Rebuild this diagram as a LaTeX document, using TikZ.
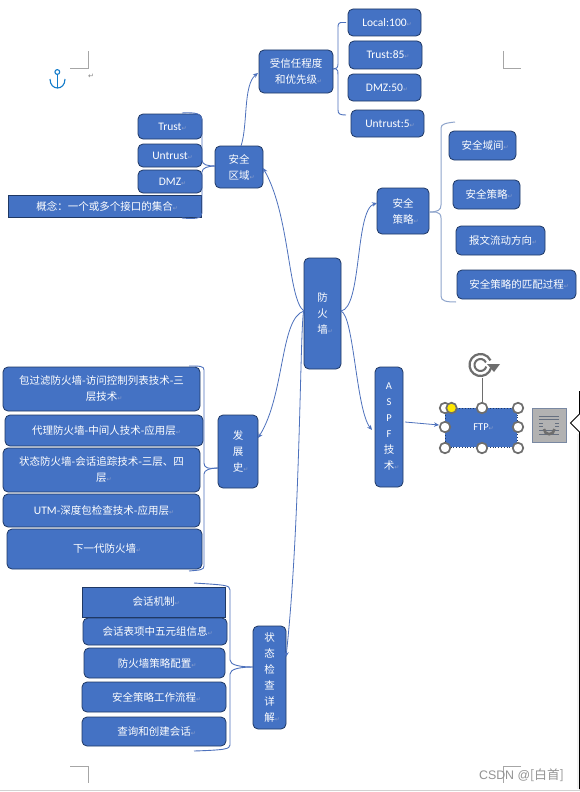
\documentclass[tikz,border=0pt]{standalone}
\usepackage{fontspec}
\setmainfont{Carlito}
\newfontfamily\cjk{Noto Sans CJK SC}
\newfontfamily\djv{DejaVu Sans}
\newfontfamily\lib{Liberation Sans}
\usetikzlibrary{arrows.meta,calc}
\definecolor{boxfill}{HTML}{4472C4}
\definecolor{boxline}{HTML}{1F3864}
\definecolor{conn}{HTML}{4D71BC}
\definecolor{brk}{HTML}{8FA5CC}
\definecolor{hgray}{HTML}{6E6E6E}
\definecolor{markc}{HTML}{8C9FCB}
\newcommand{\pmk}{\rlap{\djv\fontsize{6}{6}\selectfont\textcolor{markc}{↵}}}
\newcommand{\ltx}[1]{{\fontsize{11.5}{16}\selectfont #1}}
\newcommand{\bx}[7][]{%
  \pgfmathsetmacro{\bw}{#5-#3}\pgfmathsetmacro{\bh}{#6-#4}%
  \pgfmathsetmacro{\cxx}{(#3+#5)/2}\pgfmathsetmacro{\cyy}{(#4+#6)/2}%
  \node[boxst,minimum width=\bw pt,minimum height=\bh pt,#1] (#2) at (\cxx,\cyy) {#7};}
\tikzset{
  boxst/.style={draw=boxline,fill=boxfill,line width=0.8pt,rounded corners=5pt,inner sep=0pt,
    align=center,text=white,font=\fontsize{10.5}{16}\selectfont},
  sharpbox/.style={rounded corners=0pt},
  link/.style={draw=conn,line width=0.8pt,-{Stealth[length=5pt,width=4.5pt]}},
  brace/.style={draw=conn,line width=0.9pt},
  lbrace/.style={draw=brk,line width=1pt},
  crop/.style={draw=gray!70,line width=0.7pt},
  handle/.style={circle,draw=hgray,line width=1.7pt,fill=white,minimum size=10.5pt,inner sep=0pt}
}
\begin{document}
\begin{tikzpicture}[x=1pt,y=-1pt]
\useasboundingbox (0,0) rectangle (580,792);
\fill[white] (0,0) rectangle (580,792);
% page crop marks
\draw[crop] (70,68) -- (88,68) -- (88,51);
\draw[crop] (503,51) -- (503,68) -- (521,68);
\draw[crop] (70,766) -- (88,766) -- (88,783);
\draw[crop] (521,766) -- (503,766) -- (503,783);
\fill[gray!10] (576.5,434) rectangle (579,789);
\draw[gray!35,line width=1pt] (0,790) -- (580,790);
% anchor
\begin{scope}[draw=cyan!60!blue,line width=1.1pt]
\draw (57.3,72) circle (2.4);
\draw (57.3,74.5) -- (57.3,88);
\draw (50,79) .. controls (50,91) and (65,91) .. (65,79);
\end{scope}
\node[inner sep=0pt,text=gray] (pm) at (91,76) {\djv\fontsize{7}{7}\selectfont ↵};
% nodes
\bx{root}{304}{258}{341}{369}{\cjk 防\\\cjk 火\\\cjk 墙\pmk}
\bx{zone}{215}{146}{263}{188}{\cjk 安全\\\cjk 区域\pmk}
\bx{ztrust}{138}{114}{202}{139}{\ltx{Trust}\pmk}
\bx{zuntr}{138}{144}{202}{167}{\ltx{Untrust}\pmk}
\bx{zdmz}{138}{170}{202}{193}{\ltx{DMZ}\pmk}
\bx[sharpbox]{zcon}{8}{195}{201}{217}{{\cjk 概念：一个或多个接口的集合}\pmk}
\bx{prio}{259}{50}{333}{93}{\cjk 受信任程度\\\cjk 和优先级\pmk}
\bx{plocal}{348}{9}{421}{36}{\ltx{Local:100}\pmk}
\bx{ptrust}{349}{41}{422}{69}{\ltx{Trust:85}\pmk}
\bx{pdmz}{348}{74}{421}{101}{\ltx{DMZ:50}\pmk}
\bx{puntr}{351}{110}{424}{137}{\ltx{Untrust:5}\pmk}
\bx{pol}{377}{188}{429}{234}{\cjk 安全\\\cjk 策略\pmk}
\bx{pa}{449}{131}{516}{160}{{\cjk 安全域间}\pmk}
\bx{pb}{453}{180}{520}{209}{{\cjk 安全策略}\pmk}
\bx{pc}{456}{226}{545}{255}{{\cjk 报文流动方向}\pmk}
\bx{pd}{457}{270}{576}{299}{{\cjk 安全策略的匹配过程}\pmk}
\bx{aspf}{375}{367}{403}{487}{A\\S\\P\\F\\\cjk 技\\\cjk 术\pmk}
\bx[sharpbox,dotted]{ftp}{445}{408}{517}{447}{FTP\pmk}
\bx{hist}{218}{415}{258}{488}{\cjk 发\\\cjk 展\\\cjk 史\pmk}
\bx{ha}{3}{367}{200}{411}{\cjk 包过滤防火墙-访问控制列表技术-三\\\cjk 层技术\pmk}
\bx{hb}{5}{415}{203}{446}{{\cjk 代理防火墙-中间人技术-应用层}\pmk}
\bx{hc}{3}{448}{200}{492}{\cjk 状态防火墙-会话追踪技术-三层、四\\\cjk 层\pmk}
\bx{hd}{3}{494}{200}{527}{\ltx{UTM}{\cjk -深度包检查技术-应用层}\pmk}
\bx{he}{7}{529}{202}{569}{{\cjk 下一代防火墙}\pmk}
\bx{state}{253}{626}{286}{729}{\cjk 状\\\cjk 态\\\cjk 检\\\cjk 查\\\cjk 详\\\cjk 解\pmk}
\bx[sharpbox]{sa}{82}{587}{225}{617}{{\cjk 会话机制}\pmk}
\bx{sb}{83}{618}{227}{645}{{\cjk 会话表项中五元组信息}\pmk}
\bx{sc}{84}{648}{225}{678}{{\cjk 防火墙策略配置}\pmk}
\bx{sd}{82}{682}{226}{712}{{\cjk 安全策略工作流程}\pmk}
\bx{se}{82}{717}{226}{746}{{\cjk 查询和创建会话}\pmk}
% connector ends on the root
\coordinate (rl) at (304,311);
\coordinate (rr) at (341,311);
% curved connectors
\draw[link] (rl) .. controls (288,300) and (290,215) .. (263,168);
\draw[link] (rl) .. controls (280,318) and (285,395) .. (258,438);
\draw[link] (rl) .. controls (300,312) and (301,520) .. (286,657);
\draw[link] (rr) .. controls (362,308) and (355,210) .. (377,203);
\draw[link] (rr) .. controls (354,316) and (356,410) .. (372,430);
\draw[link] (241,146) .. controls (248,125) and (243,85) .. (258,73);
\draw[link] (405,422) -- (439,425);
% braces
\draw[brace] (182,113) .. controls (196,112) and (202,114) .. (202,120) -- (202,160)
  .. controls (202,165) and (208,166) .. (215,166);
\draw[brace] (215,166) .. controls (208,166) and (202,168) .. (202,172) -- (202,213)
  .. controls (202,219) and (194,219) .. (182,218);
\draw[brace] (346,22.5) -- (343,22.5) .. controls (339,22) and (338,24) .. (338,27) -- (338,64)
  .. controls (338,68) and (336,69) .. (333,69);
\draw[brace] (333,69) -- (336,69) .. controls (338,69) and (338,72) .. (338,75) -- (338,110)
  .. controls (338,114) and (340,115) .. (346,115);
\draw[lbrace] (455,122) .. controls (446,123) and (441,124) .. (441,128) -- (441,205)
  .. controls (441,210) and (438,212) .. (429,212);
\draw[lbrace] (429,212) -- (436,212) .. controls (439,213) and (441,214) .. (441,218) -- (441,296)
  .. controls (441,301) and (446,302) .. (456,302);
\draw[brace] (189,366) .. controls (200,366) and (204,366) .. (204,370) -- (204,463)
  .. controls (204,468) and (208,469) .. (218,468);
\draw[brace] (218,468) .. controls (210,468) and (204,470) .. (204,474) -- (204,566)
  .. controls (204,570) and (200,570) .. (189,571);
\draw[brace] (194,583) .. controls (225,585) and (230,585) .. (230,590) -- (230,660)
  .. controls (230,665) and (240,667) .. (253,667);
\draw[brace] (253,667) .. controls (240,667) and (230,669) .. (230,674) -- (230,745)
  .. controls (230,749) and (225,750) .. (194,751);
% selection handles
\draw[hgray,line width=1pt] (482,378) -- (482,408);
\coordinate (rot) at (480.5,365);
\draw[hgray,line width=2.2pt] (rot) ++(15:11) arc[start angle=15,end angle=335,radius=11];
\draw[hgray,line width=2pt] (rot) ++(15:6) arc[start angle=15,end angle=335,radius=6];
\fill[hgray] (500,364) -- (487,364) -- (494,372) -- cycle;
\foreach \x/\y/\n in {445/408/ha0,445/427/hb0,445/448/hc0,482/408/hd0,482/448/he0,518/408/hf0,518/427/hg0,518/448/hh0}
  \node[handle] (\n) at (\x,\y) {};
\node[handle,fill=yellow!90!orange] (hy) at (451.5,408) {};
% layout options icon
\node[draw=boxline!60,fill=gray!60,minimum width=34pt,minimum height=34pt,inner sep=0pt] (lay) at (549.5,425) {};
\foreach \yy/\xa/\xb in {416/539/559,419/539/559,430/539/559,434/539/559,423/539/543,426.5/539/543,423/555/559,426.5/555/559}
  \draw[hgray!80!boxfill,line width=0.7pt] (\xa,\yy) -- (\xb,\yy);
\draw[hgray,line width=2.6pt] (544,429) arc[start angle=180,end angle=0,radius=5.2];
% side panel edge
\draw[black,line width=0.9pt] (579.5,391) -- (579.5,414) -- (570.5,423) -- (579.5,432) -- (579.5,789);
% watermark
\node[inner sep=0pt,text=gray!85,font=\fontsize{12.4}{13}\selectfont] (wm) at (521.5,775) {\lib CSDN @{\cjk\fontsize{12.6}{13}\selectfont [白首]}};
\end{tikzpicture}
\end{document}
